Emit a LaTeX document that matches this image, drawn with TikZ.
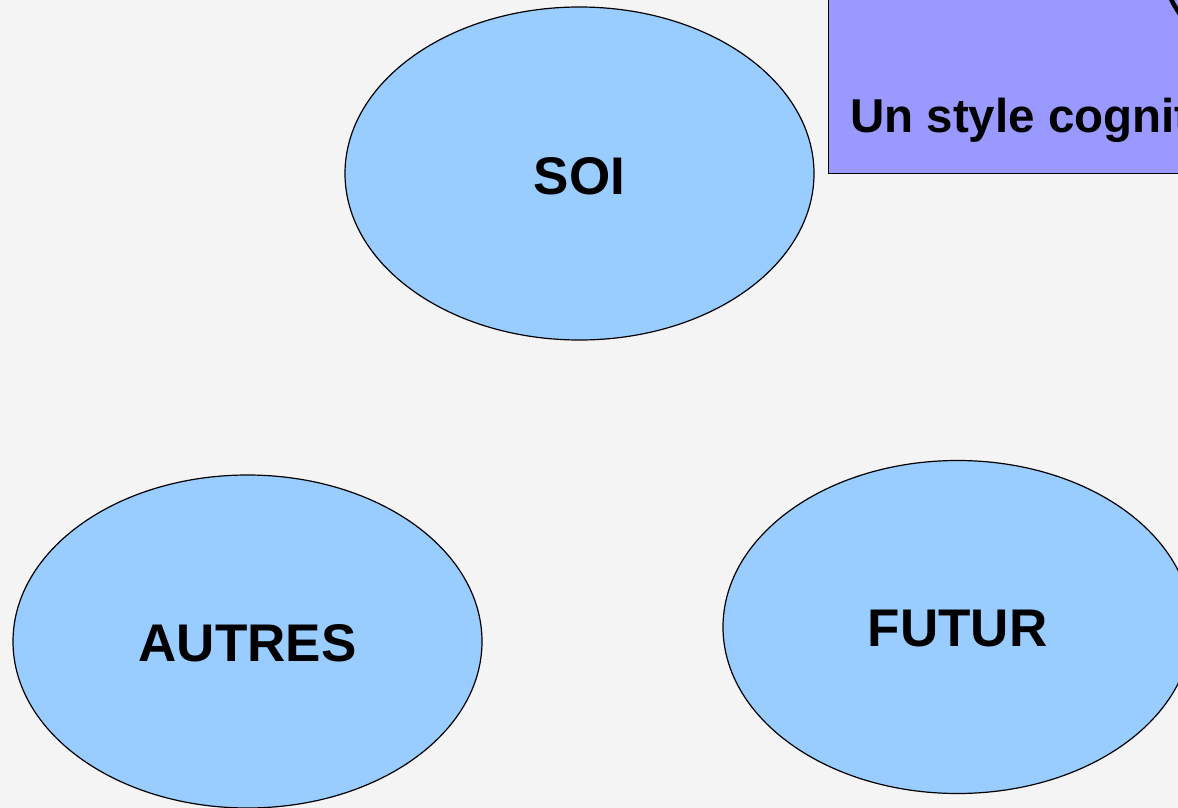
\documentclass[tikz,border=0pt]{standalone}
\usepackage{fontspec}
\setmainfont{Liberation Sans}
\usetikzlibrary{shapes.geometric}
\definecolor{bgpage}{HTML}{F4F4F4}
\definecolor{bubble}{HTML}{99CCFF}
\definecolor{banner}{HTML}{9999FF}
\begin{document}
\begin{tikzpicture}[x=1pt,y=-1pt,
  bubblenode/.style={ellipse, draw=black, line width=1.2pt, fill=bubble,
    inner sep=0pt, minimum width=469pt, minimum height=333pt},
  bubblelabel/.style={font=\fontsize{53}{60}\selectfont\bfseries, inner sep=0pt},
  bannerbox/.style={draw=black, line width=1.4pt, fill=banner},
  bannertext/.style={font=\fontsize{47.5}{55}\selectfont\bfseries, inner sep=0pt}]
  % page
  \fill[bgpage] (0,0) rectangle (1178,808);
  \useasboundingbox (0,0) rectangle (1178,808);
  \clip (0,0) rectangle (1178,808);

  % three themes
  \node[bubblenode] (soi) at (579.5,173.5) {};
  \node[bubblenode] (autres) at (247.5,641.5) {};
  \node[bubblenode] (futur) at (957.5,627) {};
  \node[bubblelabel] (soilabel) at ([yshift=-2.5pt]soi.center) {SOI};
  \node[bubblelabel] (autreslabel) at ([yshift=-1.5pt]autres.center) {AUTRES};
  \node[bubblelabel] (futurlabel) at ([yshift=-1.5pt]futur.center) {FUTUR};

  % title banner running off to the right
  \node[bannerbox, minimum width=400pt, minimum height=260pt, anchor=south west, inner sep=0pt] (banner) at (828,174) {};
  \node[bannertext, anchor=base west] (bannerlabel) at (850,132) {Un style cognitif};
  \draw[line width=4.5pt] (1170,-3) .. controls (1174,5) .. (1181,16);
\end{tikzpicture}
\end{document}
